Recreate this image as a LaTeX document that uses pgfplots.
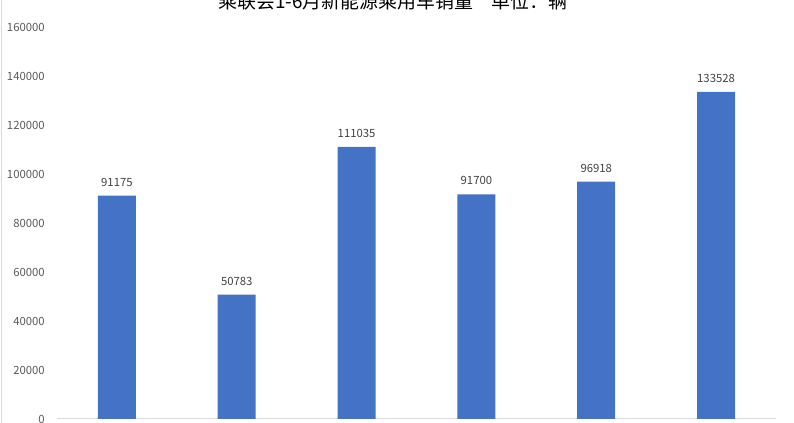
\documentclass[border=0pt]{standalone}
\usepackage{pgfplots}
\pgfplotsset{compat=1.18}
\usepackage{fontspec}
\setmainfont{Noto Sans CJK SC}
\definecolor{barblue}{HTML}{4472C4}
\definecolor{tickgray}{HTML}{595959}
\definecolor{lblgray}{HTML}{404040}
\definecolor{linegray}{HTML}{D9D9D9}
\begin{document}
\begin{tikzpicture}
\path[use as bounding box, clip] (0,0) rectangle (595.5pt,317.25pt);
\draw[linegray, line width=0.75pt] (0.9pt,0) -- (0.9pt,317.25pt);
\node[anchor=base, font=\fontsize{14.2pt}{16pt}\selectfont, text=black] at (294.75pt,311pt) {乘联会1-6月新能源乘用车销量\hspace{1em}单位：辆};
\begin{axis}[
  at={(42.75pt,3pt)}, anchor=south west,
  scale only axis, width=539.25pt, height=294pt,
  xmin=-0.5, xmax=5.5, ymin=0, ymax=160000,
  ytick={0,20000,40000,60000,80000,100000,120000,140000,160000},
  xtick=\empty,
  axis x line*=bottom, axis y line*=left,
  x axis line style={linegray, line width=0.75pt, -},
  y axis line style={draw=none},
  ytick style={draw=none},
  scaled y ticks=false,
  yticklabel style={font=\fontsize{8.5pt}{10pt}\selectfont, text=tickgray, inner sep=0pt, xshift=-9pt, /pgf/number format/fixed, /pgf/number format/1000 sep={}, /pgf/number format/assume math mode=true},
  ybar, bar width=28.5pt,
  nodes near coords,
  every node near coord/.append style={font=\fontsize{8.5pt}{10pt}\selectfont, text=lblgray, inner sep=0pt, yshift=6.75pt, anchor=south, /pgf/number format/fixed, /pgf/number format/1000 sep={}, /pgf/number format/assume math mode=true},
  clip=false,
]
\addplot[fill=barblue, draw=none] coordinates {(0,91175) (1,50783) (2,111035) (3,91700) (4,96918) (5,133528)};
\end{axis}
\end{tikzpicture}
\end{document}
